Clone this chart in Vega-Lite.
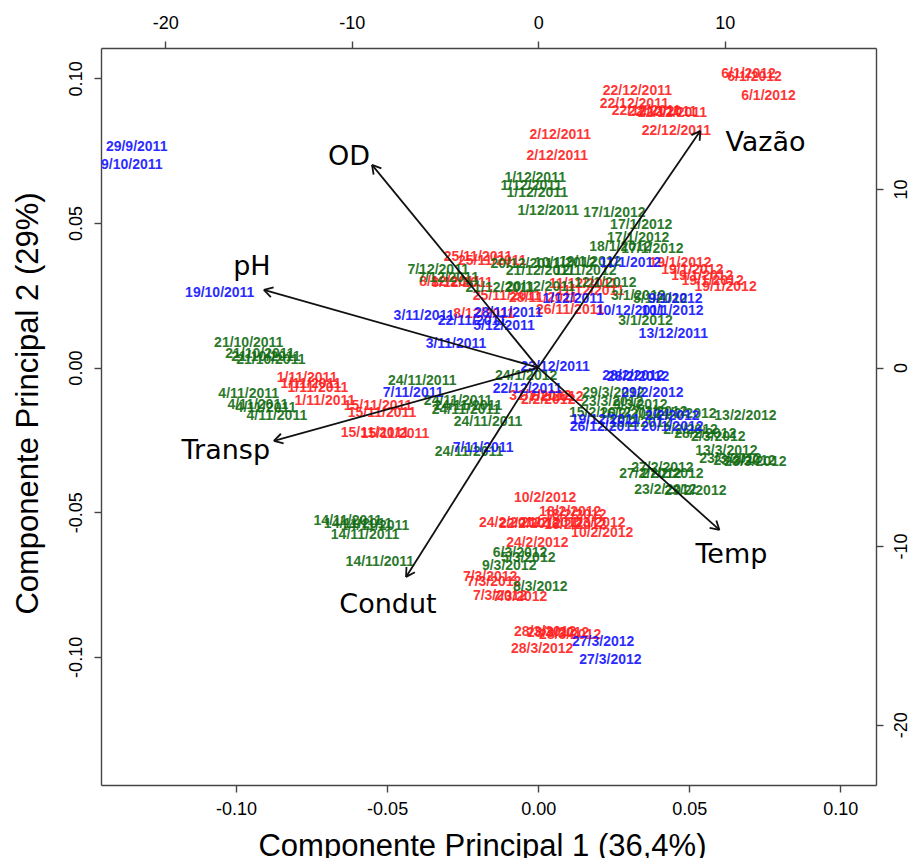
{
  "$schema": "https://vega.github.io/schema/vega-lite/v6.json",
  "width": 775,
  "height": 737,
  "autosize": {"type": "none"},
  "padding": {"left": 101, "top": 48, "right": 35, "bottom": 73},
  "background": "white",
  "config": {
    "view": {"stroke": null},
    "locale": {"number": {"decimal": ".", "thousands": ",", "grouping": [3], "currency": ["$", ""], "minus": "-"}},
    "axis": {
      "grid": false,
      "labelFont": "Liberation Sans",
      "labelFontSize": 18,
      "labelColor": "#000",
      "labelFlush": false,
      "labelOverlap": false,
      "domainColor": "#444",
      "tickColor": "#444",
      "domainWidth": 1.4,
      "tickWidth": 1.4,
      "tickSize": 7,
      "titleFont": "Liberation Sans",
      "titleFontSize": 31,
      "titleFontWeight": "normal",
      "titleColor": "#000"
    }
  },
  "datasets": {
    "amostras": [
      {"rotulo": "6/1/2012", "ponto": "A", "x": 0.0696, "y": 0.1016},
      {"rotulo": "6/1/2012", "ponto": "A", "x": 0.0716, "y": 0.1005},
      {"rotulo": "6/1/2012", "ponto": "A", "x": 0.0762, "y": 0.0939},
      {"rotulo": "22/12/2011", "ponto": "A", "x": 0.0328, "y": 0.0957},
      {"rotulo": "22/12/2011", "ponto": "A", "x": 0.0318, "y": 0.0912},
      {"rotulo": "22/12/2011", "ponto": "A", "x": 0.0358, "y": 0.0888},
      {"rotulo": "22/12/2011", "ponto": "A", "x": 0.0411, "y": 0.0884},
      {"rotulo": "22/12/2011", "ponto": "A", "x": 0.0444, "y": 0.0881},
      {"rotulo": "22/12/2011", "ponto": "A", "x": 0.0457, "y": 0.0818},
      {"rotulo": "2/12/2011", "ponto": "A", "x": 0.0073, "y": 0.0805},
      {"rotulo": "2/12/2011", "ponto": "A", "x": 0.0063, "y": 0.0732},
      {"rotulo": "25/11/2011", "ponto": "A", "x": -0.0199, "y": 0.0383},
      {"rotulo": "25/11/2011", "ponto": "A", "x": -0.0152, "y": 0.0369},
      {"rotulo": "19/1/2012", "ponto": "A", "x": 0.0471, "y": 0.0362},
      {"rotulo": "19/1/2012", "ponto": "A", "x": 0.0510, "y": 0.0338},
      {"rotulo": "19/1/2012", "ponto": "A", "x": 0.0543, "y": 0.0317},
      {"rotulo": "19/1/2012", "ponto": "A", "x": 0.0577, "y": 0.0300},
      {"rotulo": "19/1/2012", "ponto": "A", "x": 0.0620, "y": 0.0279},
      {"rotulo": "8/12/2011", "ponto": "A", "x": -0.0292, "y": 0.0296},
      {"rotulo": "8/12/2011", "ponto": "A", "x": -0.0252, "y": 0.0293},
      {"rotulo": "11/12/2011", "ponto": "A", "x": 0.0149, "y": 0.0289},
      {"rotulo": "11/12/2011", "ponto": "A", "x": 0.0172, "y": 0.0265},
      {"rotulo": "25/11/2011", "ponto": "A", "x": -0.0103, "y": 0.0248},
      {"rotulo": "28/11/2011", "ponto": "A", "x": 0.0017, "y": 0.0241},
      {"rotulo": "26/11/2011", "ponto": "A", "x": 0.0106, "y": 0.0200},
      {"rotulo": "8/12/2011", "ponto": "A", "x": -0.0179, "y": 0.0186},
      {"rotulo": "1/11/2011", "ponto": "A", "x": -0.0765, "y": -0.0036},
      {"rotulo": "1/11/2011", "ponto": "A", "x": -0.0752, "y": -0.0056},
      {"rotulo": "1/11/2011", "ponto": "A", "x": -0.0729, "y": -0.0070},
      {"rotulo": "1/11/2011", "ponto": "A", "x": -0.0706, "y": -0.0115},
      {"rotulo": "15/11/2011", "ponto": "A", "x": -0.0530, "y": -0.0132},
      {"rotulo": "15/11/2011", "ponto": "A", "x": -0.0517, "y": -0.0157},
      {"rotulo": "15/11/2011", "ponto": "A", "x": -0.0540, "y": -0.0226},
      {"rotulo": "15/11/2011", "ponto": "A", "x": -0.0474, "y": -0.0229},
      {"rotulo": "31/1/2012", "ponto": "A", "x": 0.0007, "y": -0.0098},
      {"rotulo": "7/2/2012", "ponto": "A", "x": 0.0060, "y": -0.0101},
      {"rotulo": "2/2/2012", "ponto": "A", "x": 0.0033, "y": -0.0112},
      {"rotulo": "10/2/2012", "ponto": "A", "x": 0.0023, "y": -0.0451},
      {"rotulo": "18/2/2012", "ponto": "A", "x": 0.0106, "y": -0.0499},
      {"rotulo": "18/2/2012", "ponto": "A", "x": 0.0123, "y": -0.0509},
      {"rotulo": "24/2/2012", "ponto": "A", "x": -0.0093, "y": -0.0537},
      {"rotulo": "22/2/2012", "ponto": "A", "x": -0.0027, "y": -0.0540},
      {"rotulo": "21/2/2012", "ponto": "A", "x": 0.0046, "y": -0.0537},
      {"rotulo": "16/2/2012", "ponto": "A", "x": 0.0123, "y": -0.0544},
      {"rotulo": "1/3/2012", "ponto": "A", "x": 0.0199, "y": -0.0537},
      {"rotulo": "10/2/2012", "ponto": "A", "x": 0.0212, "y": -0.0572},
      {"rotulo": "24/2/2012", "ponto": "A", "x": -0.0003, "y": -0.0606},
      {"rotulo": "7/3/2012", "ponto": "A", "x": -0.0159, "y": -0.0724},
      {"rotulo": "7/3/2012", "ponto": "A", "x": -0.0146, "y": -0.0741},
      {"rotulo": "7/3/2012", "ponto": "A", "x": -0.0126, "y": -0.0789},
      {"rotulo": "7/3/2012", "ponto": "A", "x": -0.0060, "y": -0.0793},
      {"rotulo": "28/3/2012", "ponto": "A", "x": 0.0023, "y": -0.0914},
      {"rotulo": "28/3/2012", "ponto": "A", "x": 0.0066, "y": -0.0917},
      {"rotulo": "28/3/2012", "ponto": "A", "x": 0.0106, "y": -0.0924},
      {"rotulo": "28/3/2012", "ponto": "A", "x": 0.0013, "y": -0.0973},
      {"rotulo": "1/12/2011", "ponto": "B", "x": -0.0010, "y": 0.0656},
      {"rotulo": "1/12/2011", "ponto": "B", "x": -0.0023, "y": 0.0628},
      {"rotulo": "1/12/2011", "ponto": "B", "x": -0.0003, "y": 0.0604},
      {"rotulo": "1/12/2011", "ponto": "B", "x": 0.0033, "y": 0.0542},
      {"rotulo": "17/1/2012", "ponto": "B", "x": 0.0252, "y": 0.0535},
      {"rotulo": "17/1/2012", "ponto": "B", "x": 0.0341, "y": 0.0493},
      {"rotulo": "17/1/2012", "ponto": "B", "x": 0.0331, "y": 0.0448},
      {"rotulo": "18/1/2012", "ponto": "B", "x": 0.0272, "y": 0.0417},
      {"rotulo": "17/1/2012", "ponto": "B", "x": 0.0378, "y": 0.0410},
      {"rotulo": "7/12/2011", "ponto": "B", "x": -0.0331, "y": 0.0338},
      {"rotulo": "7/12/2011", "ponto": "B", "x": -0.0298, "y": 0.0310},
      {"rotulo": "21/12/2011", "ponto": "B", "x": 0.0007, "y": 0.0334},
      {"rotulo": "20/12/2011", "ponto": "B", "x": -0.0043, "y": 0.0359},
      {"rotulo": "10/1/2012", "ponto": "B", "x": 0.0089, "y": 0.0362},
      {"rotulo": "19/1/2012", "ponto": "B", "x": 0.0172, "y": 0.0365},
      {"rotulo": "12/1/2012", "ponto": "B", "x": 0.0156, "y": 0.0334},
      {"rotulo": "21/12/2011", "ponto": "B", "x": -0.0126, "y": 0.0276},
      {"rotulo": "20/12/2011", "ponto": "B", "x": 0.0007, "y": 0.0279},
      {"rotulo": "12/1/2012", "ponto": "B", "x": 0.0222, "y": 0.0293},
      {"rotulo": "3/1/2012", "ponto": "B", "x": 0.0331, "y": 0.0248},
      {"rotulo": "5/1/2012", "ponto": "B", "x": 0.0404, "y": 0.0238},
      {"rotulo": "3/1/2012", "ponto": "B", "x": 0.0355, "y": 0.0161},
      {"rotulo": "21/10/2011", "ponto": "B", "x": -0.0958, "y": 0.0085},
      {"rotulo": "21/10/2011", "ponto": "B", "x": -0.0921, "y": 0.0047},
      {"rotulo": "21/10/2011", "ponto": "B", "x": -0.0901, "y": 0.0037},
      {"rotulo": "21/10/2011", "ponto": "B", "x": -0.0885, "y": 0.0027},
      {"rotulo": "4/11/2011", "ponto": "B", "x": -0.0958, "y": -0.0091},
      {"rotulo": "4/11/2011", "ponto": "B", "x": -0.0928, "y": -0.0129},
      {"rotulo": "4/11/2011", "ponto": "B", "x": -0.0901, "y": -0.0139},
      {"rotulo": "4/11/2011", "ponto": "B", "x": -0.0865, "y": -0.0167},
      {"rotulo": "24/11/2011", "ponto": "B", "x": -0.0384, "y": -0.0046},
      {"rotulo": "24/11/2011", "ponto": "B", "x": -0.0265, "y": -0.0115},
      {"rotulo": "24/11/2011", "ponto": "B", "x": -0.0232, "y": -0.0132},
      {"rotulo": "24/11/2011", "ponto": "B", "x": -0.0239, "y": -0.0146},
      {"rotulo": "24/11/2011", "ponto": "B", "x": -0.0166, "y": -0.0188},
      {"rotulo": "24/11/2011", "ponto": "B", "x": -0.0229, "y": -0.0291},
      {"rotulo": "24/1/2012", "ponto": "B", "x": -0.0040, "y": -0.0029},
      {"rotulo": "29/3/2012", "ponto": "B", "x": 0.0249, "y": -0.0087},
      {"rotulo": "23/3/2012", "ponto": "B", "x": 0.0245, "y": -0.0119},
      {"rotulo": "9/3/2012", "ponto": "B", "x": 0.0338, "y": -0.0129},
      {"rotulo": "15/2/2012", "ponto": "B", "x": 0.0205, "y": -0.0157},
      {"rotulo": "16/2/2012", "ponto": "B", "x": 0.0305, "y": -0.0160},
      {"rotulo": "7/2/2012", "ponto": "B", "x": 0.0404, "y": -0.0153},
      {"rotulo": "14/2/2012", "ponto": "B", "x": 0.0487, "y": -0.0160},
      {"rotulo": "13/2/2012", "ponto": "B", "x": 0.0686, "y": -0.0167},
      {"rotulo": "16/2/2012", "ponto": "B", "x": 0.0338, "y": -0.0191},
      {"rotulo": "2/2/2012", "ponto": "B", "x": 0.0504, "y": -0.0215},
      {"rotulo": "28/2/2012", "ponto": "B", "x": 0.0553, "y": -0.0229},
      {"rotulo": "2/3/2012", "ponto": "B", "x": 0.0596, "y": -0.0240},
      {"rotulo": "13/3/2012", "ponto": "B", "x": 0.0623, "y": -0.0288},
      {"rotulo": "23/3/2012", "ponto": "B", "x": 0.0636, "y": -0.0316},
      {"rotulo": "23/3/2012", "ponto": "B", "x": 0.0683, "y": -0.0323},
      {"rotulo": "23/3/2012", "ponto": "B", "x": 0.0719, "y": -0.0326},
      {"rotulo": "27/2/2012", "ponto": "B", "x": 0.0411, "y": -0.0347},
      {"rotulo": "27/2/2012", "ponto": "B", "x": 0.0371, "y": -0.0368},
      {"rotulo": "27/2/2012", "ponto": "B", "x": 0.0444, "y": -0.0368},
      {"rotulo": "23/2/2012", "ponto": "B", "x": 0.0421, "y": -0.0423},
      {"rotulo": "23/2/2012", "ponto": "B", "x": 0.0520, "y": -0.0426},
      {"rotulo": "14/11/2011", "ponto": "B", "x": -0.0630, "y": -0.0530},
      {"rotulo": "14/11/2011", "ponto": "B", "x": -0.0596, "y": -0.0540},
      {"rotulo": "14/11/2011", "ponto": "B", "x": -0.0540, "y": -0.0547},
      {"rotulo": "14/11/2011", "ponto": "B", "x": -0.0573, "y": -0.0578},
      {"rotulo": "14/11/2011", "ponto": "B", "x": -0.0524, "y": -0.0672},
      {"rotulo": "6/3/2012", "ponto": "B", "x": -0.0060, "y": -0.0641},
      {"rotulo": "5/3/2012", "ponto": "B", "x": -0.0033, "y": -0.0658},
      {"rotulo": "9/3/2012", "ponto": "B", "x": -0.0096, "y": -0.0686},
      {"rotulo": "8/3/2012", "ponto": "B", "x": 0.0007, "y": -0.0758},
      {"rotulo": "29/9/2011", "ponto": "C", "x": -0.1329, "y": 0.0763},
      {"rotulo": "9/10/2011", "ponto": "C", "x": -0.1345, "y": 0.0701},
      {"rotulo": "19/10/2011", "ponto": "C", "x": -0.1054, "y": 0.0258},
      {"rotulo": "11/1/2012", "ponto": "C", "x": 0.0305, "y": 0.0362},
      {"rotulo": "1/12/2011", "ponto": "C", "x": 0.0116, "y": 0.0238},
      {"rotulo": "9/1/2012", "ponto": "C", "x": 0.0454, "y": 0.0238},
      {"rotulo": "10/12/2011", "ponto": "C", "x": 0.0305, "y": 0.0196},
      {"rotulo": "10/1/2012", "ponto": "C", "x": 0.0444, "y": 0.0196},
      {"rotulo": "13/12/2011", "ponto": "C", "x": 0.0447, "y": 0.0117},
      {"rotulo": "3/11/2011", "ponto": "C", "x": -0.0378, "y": 0.0179},
      {"rotulo": "28/11/2011", "ponto": "C", "x": -0.0099, "y": 0.0189},
      {"rotulo": "22/11/2011", "ponto": "C", "x": -0.0219, "y": 0.0161},
      {"rotulo": "5/12/2011", "ponto": "C", "x": -0.0113, "y": 0.0144},
      {"rotulo": "3/11/2011", "ponto": "C", "x": -0.0272, "y": 0.0082},
      {"rotulo": "7/11/2011", "ponto": "C", "x": -0.0414, "y": -0.0087},
      {"rotulo": "7/11/2011", "ponto": "C", "x": -0.0182, "y": -0.0278},
      {"rotulo": "23/12/2011", "ponto": "C", "x": 0.0056, "y": 0.0002},
      {"rotulo": "22/12/2011", "ponto": "C", "x": -0.0036, "y": -0.0074},
      {"rotulo": "28/2/2012", "ponto": "C", "x": 0.0315, "y": -0.0029},
      {"rotulo": "28/2/2012", "ponto": "C", "x": 0.0331, "y": -0.0032},
      {"rotulo": "29/2/2012", "ponto": "C", "x": 0.0378, "y": -0.0087},
      {"rotulo": "2/2/2012", "ponto": "C", "x": 0.0444, "y": -0.0167},
      {"rotulo": "19/12/2011", "ponto": "C", "x": 0.0222, "y": -0.0181},
      {"rotulo": "26/12/2011", "ponto": "C", "x": 0.0219, "y": -0.0205},
      {"rotulo": "20/1/2012", "ponto": "C", "x": 0.0444, "y": -0.0205},
      {"rotulo": "27/3/2012", "ponto": "C", "x": 0.0215, "y": -0.0948},
      {"rotulo": "27/3/2012", "ponto": "C", "x": 0.0239, "y": -0.1011}
    ],
    "segmentos": [
      {"var": "Vazão", "x": 8.696, "y": 13.26, "x2": 0, "y2": 0},
      {"var": "Vazão", "x": 8.696, "y": 13.26, "x2": 8.211, "y2": 13.018},
      {"var": "Vazão", "x": 8.696, "y": 13.26, "x2": 8.655, "y2": 12.702},
      {"var": "OD", "x": -8.910, "y": 11.356, "x2": 0, "y2": 0},
      {"var": "OD", "x": -8.910, "y": 11.356, "x2": -8.823, "y2": 10.803},
      {"var": "OD", "x": -8.910, "y": 11.356, "x2": -8.408, "y2": 11.158},
      {"var": "pH", "x": -14.708, "y": 4.353, "x2": 0, "y2": 0},
      {"var": "pH", "x": -14.708, "y": 4.353, "x2": -14.333, "y2": 3.951},
      {"var": "pH", "x": -14.708, "y": 4.353, "x2": -14.187, "y2": 4.490},
      {"var": "Transp", "x": -14.171, "y": -4.106, "x2": 0, "y2": 0},
      {"var": "Transp", "x": -14.171, "y": -4.106, "x2": -13.651, "y2": -4.246},
      {"var": "Transp", "x": -14.171, "y": -4.106, "x2": -13.795, "y2": -3.706},
      {"var": "Condut", "x": -7.085, "y": -11.725, "x2": 0, "y2": 0},
      {"var": "Condut", "x": -7.085, "y": -11.725, "x2": -6.610, "y2": -11.464},
      {"var": "Condut", "x": -7.085, "y": -11.725, "x2": -7.064, "y2": -11.166},
      {"var": "Temp", "x": 9.716, "y": -9.092, "x2": 0, "y2": 0},
      {"var": "Temp", "x": 9.716, "y": -9.092, "x2": 9.549, "y2": -8.560},
      {"var": "Temp", "x": 9.716, "y": -9.092, "x2": 9.190, "y2": -8.977}
    ],
    "variaveis": [
      {"var": "Vazão", "x": 12.185, "y": 12.588},
      {"var": "OD", "x": -10.145, "y": 11.804},
      {"var": "pH", "x": -15.352, "y": 5.641},
      {"var": "Transp", "x": -16.747, "y": -4.667},
      {"var": "Condut", "x": -8.052, "y": -13.294},
      {"var": "Temp", "x": 10.360, "y": -10.493}
    ]
  },
  "layer": [
    {
      "data": {"name": "amostras"},
      "mark": {"type": "text", "font": "Liberation Sans", "fontSize": 14, "fontWeight": "bold", "align": "center", "baseline": "middle", "opacity": 0.9},
      "encoding": {
        "x": {
          "field": "x", "type": "quantitative",
          "scale": {"domain": [-0.1447, 0.1118], "nice": false, "zero": false},
          "axis": {
            "orient": "bottom", "values": [-0.1, -0.05, 0, 0.05, 0.1], "format": ".2f",
            "labelPadding": 8,
            "title": "Componente Principal 1 (36,4%)",
            "titleX": 381, "titleY": 70, "titleBaseline": "alphabetic", "titleAlign": "center"
          }
        },
        "y": {
          "field": "y", "type": "quantitative",
          "scale": {"domain": [-0.1443, 0.1105], "nice": false, "zero": false},
          "axis": {
            "orient": "left", "values": [-0.1, -0.05, 0, 0.05, 0.1], "format": ".2f",
            "labelAngle": 270, "labelAlign": "center", "labelBaseline": "bottom", "labelPadding": 9,
            "title": "Componente Principal 2 (29%)",
            "titleAngle": 270, "titleX": -64, "titleY": 355, "titleBaseline": "alphabetic", "titleAlign": "center"
          }
        },
        "text": {"field": "rotulo", "type": "nominal"},
        "color": {
          "field": "ponto", "type": "nominal",
          "scale": {"domain": ["A", "B", "C"], "range": ["#ff1f1f", "#126c12", "#1414ff"]},
          "legend": null
        }
      }
    },
    {
      "encoding": {
        "x": {
          "field": "x", "type": "quantitative",
          "scale": {"domain": [-23.44, 18.11], "nice": false, "zero": false},
          "axis": {"orient": "top", "values": [-20, -10, 0, 10], "labelPadding": 9, "title": null}
        },
        "y": {
          "field": "y", "type": "quantitative",
          "scale": {"domain": [-23.38, 17.90], "nice": false, "zero": false},
          "axis": {
            "orient": "right", "values": [-20, -10, 0, 10],
            "labelAngle": 270, "labelAlign": "center", "labelBaseline": "top", "labelPadding": 9,
            "title": null
          }
        }
      },
      "layer": [
        {
          "data": {"name": "segmentos"},
          "mark": {"type": "rule", "color": "#111", "strokeWidth": 1.8},
          "encoding": {
            "x2": {"field": "x2"},
            "y2": {"field": "y2"}
          }
        },
        {
          "data": {"name": "variaveis"},
          "mark": {"type": "text", "font": "DejaVu Sans", "fontSize": 27, "color": "#000", "align": "center", "baseline": "middle"},
          "encoding": {
            "text": {"field": "var", "type": "nominal"}
          }
        }
      ]
    }
  ],
  "resolve": {
    "scale": {"x": "independent", "y": "independent"},
    "axis": {"x": "independent", "y": "independent"}
  }
}
